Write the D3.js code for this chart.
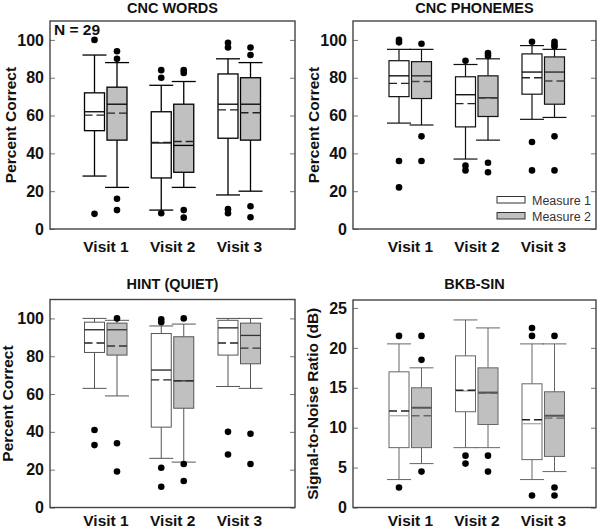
<!DOCTYPE html>
<html><head><meta charset="utf-8">
<script src="https://cdn.jsdelivr.net/npm/d3@7"></script>
<style>body{margin:0;background:#fff}svg{display:block;font-family:"Liberation Sans",Arial,sans-serif}</style>
</head><body>
<script>
// ---------------- DATA ----------------
const visits = ["Visit 1", "Visit 2", "Visit 3"];
const measures = ["Measure 1", "Measure 2"];
// per visit: [whiskerLow, q1, median, q3, whiskerHigh, mean]
const wordsM1 = [[28, 52, 62, 72, 92, 60.2], [10, 27, 45.5, 62, 76, 45.8], [18, 48, 66, 82, 90, 63]];
const wordsM2 = [[22, 47, 66, 75, 88, 61.3], [22, 30, 44.2, 66, 78, 46.3], [20, 47, 66, 80, 88, 61.5]];
const wordsOut1 = [[100, 8], [84, 80, 8.3], [98.5, 96, 10.5, 8.3]];
const wordsOut2 = [[94, 90, 16, 10], [84, 82.5, 10, 6], [96, 92, 12, 6.2]];

const phonM1 = [[56, 70, 81, 89, 95, 77], [37, 54, 71, 80.5, 87, 66.3], [58, 71.3, 83, 92.6, 97, 80]];
const phonM2 = [[55, 69, 81, 88.5, 95, 78], [47, 59.5, 69.4, 81, 90, 69.2], [59, 66, 83, 91, 95, 78.3]];
const phonOut1 = [[100, 98.7, 36, 22], [89, 33.5, 31], [99, 46, 31]];
const phonOut2 = [[98, 49, 36], [93, 91.5, 35, 30], [99, 97.5, 96.5, 49, 31]];

const hintM1 = [[63, 82, 94, 98, 100, 87], [26, 42.5, 72.7, 92, 96, 67.5], [64, 80.6, 95, 99, 100, 87]];
const hintM2 = [[59, 80.6, 94, 97.5, 99, 85.4], [24, 52.5, 67, 90.3, 97, 67], [63, 76, 91, 97.5, 100, 84.3]];
const hintOut1 = [[41, 33], [99.5, 98, 21, 11], [40, 28]];
const hintOut2 = [[100, 34, 19], [100, 23, 14], [39, 23]];

const bkbM1 = [[3.5, 7.5, 11.5, 17, 20.5, 12.1], [7.5, 12, 14.6, 19, 23.5, 14.7], [3.5, 6, 10.5, 15.5, 20.5, 11]];
const bkbM2 = [[5.5, 7.5, 12.5, 15, 17.5, 11.5], [7.5, 10.4, 14.4, 17.5, 22.5, 14.3], [4.5, 6.4, 11.5, 14.5, 20.5, 11.2]];
const bkbOut1 = [[21.5, 2.5], [6.5, 5.5], [22.5, 21.5, 1.5]];
const bkbOut2 = [[21.5, 18.5, 4.5], [6.5, 4.5], [21.5, 2.5, 1.5]];

const pctTicks = [0, 20, 40, 60, 80, 100];
const snrTicks = [0, 5, 10, 15, 20, 25];

// ---------------- LAYOUT ----------------
const panels = [
  {title: "CNC WORDS", ylab: "Percent Correct", ymax: 110, ticks: pctTicks, m1: wordsM1, m2: wordsM2, o1: wordsOut1, o2: wordsOut2,
   f: {x0: 50, x1: 295, y0: 21, y1: 229}, gr: [55.5, 56], titleY: 13, ylabX: 16, xpad: 12, n: "N = 29",
   st: {c: "#000", w: 1.3, med1: "#000", med2: "#000", mean2: "#222"}},
  {title: "CNC PHONEMES", ylab: "Percent Correct", ymax: 110, ticks: pctTicks, m1: phonM1, m2: phonM2, o1: phonOut1, o2: phonOut2,
   f: {x0: 353, x1: 596, y0: 21, y1: 229}, gr: [57, 53], titleY: 13, ylabX: 319, xpad: 12, legend: true,
   st: {c: "#111", w: 1.2, med1: "#000", med2: "#222", mean2: "#444"}},
  {title: "HINT (QUIET)", ylab: "Percent Correct", ymax: 110, ticks: pctTicks, m1: hintM1, m2: hintM2, o1: hintOut1, o2: hintOut2,
   f: {x0: 50, x1: 295, y0: 299.5, y1: 507.5}, gr: [55.5, 56], titleY: 289, ylabX: 13, xpad: 7.5,
   st: {c: "#555", w: 1, med1: "#222", med2: "#333", mean2: "#333"}},
  {title: "BKB-SIN", ylab: "Signal-to-Noise Ratio (dB)", ymax: 26, ticks: snrTicks, m1: bkbM1, m2: bkbM2, o1: bkbOut1, o2: bkbOut2,
   f: {x0: 353, x1: 596, y0: 300, y1: 507.5}, gr: [57, 53], titleY: 289, ylabX: 318, xpad: 7.5,
   st: {c: "#666", w: 1, med1: "#aaa", med2: "#555", mean2: "#666"}}
];

const svg = d3.select("body").append("svg").attr("width", 600).attr("height", 529);
const off = d3.scalePoint().domain(measures).range([-11, 11.5]);
const boxW = 20, capW = 24;

panels.forEach(p => {
  const f = p.f;
  const g = svg.append("g");
  const x = d3.scalePoint().domain(visits).range([f.x0 + p.gr[0], f.x1 - p.gr[1]]);
  const y = d3.scaleLinear().domain([0, p.ymax]).range([f.y1, f.y0]);

  // title
  g.append("text").attr("x", (f.x0 + f.x1) / 2).attr("y", p.titleY).attr("text-anchor", "middle")
    .attr("font-size", 14.5).attr("font-weight", "bold").attr("fill", "#111").text(p.title);
  // y label
  g.append("text").attr("transform", `translate(${p.ylabX},${(f.y0 + f.y1) / 2}) rotate(-90)`)
    .attr("text-anchor", "middle").attr("font-size", 15.5).attr("font-weight", "bold").attr("fill", "#111").text(p.ylab);

  // axes
  const la = g.append("g").attr("transform", `translate(${f.x0},0)`)
    .call(d3.axisLeft(y).tickValues(p.ticks).tickSizeInner(-5).tickSizeOuter(0).tickPadding(6));
  la.select(".domain").remove();
  la.selectAll("line").attr("stroke", "#777");
  la.selectAll("text").attr("font-size", 16).attr("font-weight", "bold").attr("fill", "#111").attr("font-family", "Liberation Sans, Arial, sans-serif");
  const ra = g.append("g").attr("transform", `translate(${f.x1},0)`)
    .call(d3.axisRight(y).tickValues(p.ticks).tickSizeInner(-5).tickSizeOuter(0).tickFormat(""));
  ra.select(".domain").remove();
  ra.selectAll("line").attr("stroke", "#777");
  const ba = g.append("g").attr("transform", `translate(0,${f.y1})`)
    .call(d3.axisBottom(x).tickSize(0).tickPadding(p.xpad));
  ba.select(".domain").remove();
  ba.selectAll("text").attr("font-size", 15.5).attr("font-weight", "bold").attr("fill", "#111").attr("font-family", "Liberation Sans, Arial, sans-serif");

  // boxes
  [[p.m1, p.o1, measures[0], "#fff"], [p.m2, p.o2, measures[1], "#c0c0c0"]].forEach(([stats, outs, m, fill], mi) => {
    visits.forEach((v, i) => {
      const [lo, q1, med, q3, hi, mean] = stats[i];
      const cx = x(v) + off(m);
      const bg = g.append("g");
      bg.append("line").attr("x1", cx).attr("x2", cx).attr("y1", y(lo)).attr("y2", y(q1)).attr("stroke", p.st.c).attr("stroke-width", p.st.w);
      bg.append("line").attr("x1", cx).attr("x2", cx).attr("y1", y(q3)).attr("y2", y(hi)).attr("stroke", p.st.c).attr("stroke-width", p.st.w);
      [lo, hi].forEach(val => bg.append("line").attr("x1", cx - capW / 2).attr("x2", cx + capW / 2)
        .attr("y1", y(val)).attr("y2", y(val)).attr("stroke", p.st.c).attr("stroke-width", p.st.w));
      bg.append("rect").attr("x", cx - boxW / 2).attr("width", boxW).attr("y", y(q3)).attr("height", y(q1) - y(q3))
        .attr("fill", fill).attr("stroke", p.st.c).attr("stroke-width", p.st.w);
      bg.append("line").attr("x1", cx - boxW / 2).attr("x2", cx + boxW / 2).attr("y1", y(med)).attr("y2", y(med))
        .attr("stroke", mi === 0 ? p.st.med1 : p.st.med2).attr("stroke-width", mi === 1 && p.st.c === "#666" ? 2 : 1.3);
      bg.append("line").attr("x1", cx - boxW / 2).attr("x2", cx + boxW / 2).attr("y1", y(mean)).attr("y2", y(mean))
        .attr("stroke", mi === 0 ? "#222" : p.st.mean2).attr("stroke-width", 1.4).attr("stroke-dasharray", "8,4");
      bg.selectAll("circle").data(outs[i]).join("circle").attr("cx", cx).attr("cy", d => y(d)).attr("r", 3.3).attr("fill", "#000");
    });
  });

  // frame
  g.append("rect").attr("x", f.x0).attr("y", f.y0).attr("width", f.x1 - f.x0).attr("height", f.y1 - f.y0)
    .attr("fill", "none").attr("stroke", "#444").attr("stroke-width", 1.4);

  if (p.n) g.append("text").attr("x", f.x0 + 4).attr("y", f.y0 + 14).attr("font-size", 15.5).attr("font-weight", "bold").attr("fill", "#111").text(p.n);

  if (p.legend) {
    const lg = g.append("g");
    [["#fff", measures[0]], ["#c0c0c0", measures[1]]].forEach(([fc, t], k) => {
      lg.append("rect").attr("x", 497).attr("y", 196.5 + k * 16).attr("width", 28).attr("height", 6.5)
        .attr("fill", fc).attr("stroke", "#333").attr("stroke-width", 1);
      lg.append("text").attr("x", 532).attr("y", 204.5 + k * 16).attr("font-size", 12.5).attr("fill", "#333").text(t);
    });
  }
});
</script>
</body></html>
